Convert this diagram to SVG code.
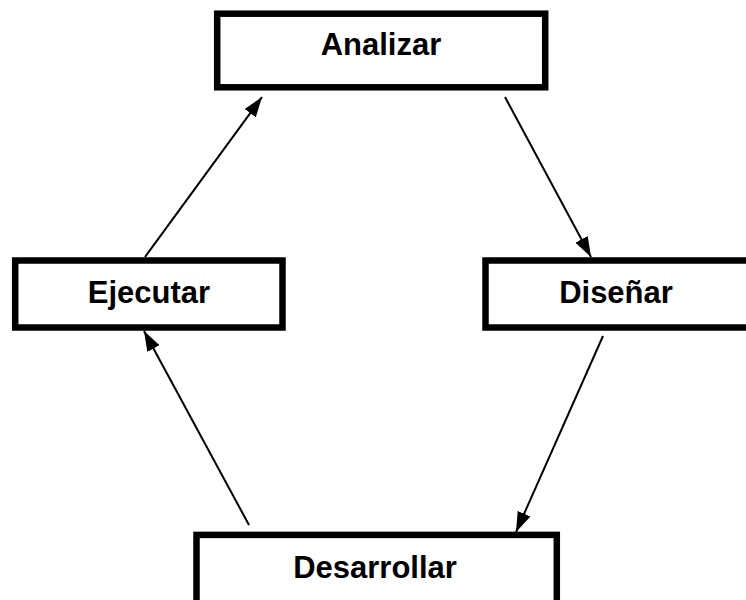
<svg xmlns="http://www.w3.org/2000/svg" width="746" height="600" viewBox="0 0 746 600">
<style>
.box{fill:#fff;stroke:#000;stroke-width:6.5}
.lbl{font-family:"Liberation Sans",Arial,sans-serif;font-weight:bold;font-size:31px;fill:#000;text-anchor:middle}
.edge{stroke:#000;stroke-width:2;fill:none;marker-end:url(#ah)}
</style>
<defs>
<marker id="ah" markerUnits="userSpaceOnUse" markerWidth="20" markerHeight="14" refX="20" refY="7" orient="auto">
<path d="M0,0 L20,7 L0,14 z" fill="#000"/>
</marker>
</defs>
<rect width="746" height="600" fill="#fff"/>
<g id="connectors">
<line class="edge" x1="505" y1="97" x2="591" y2="257"/>
<line class="edge" x1="603" y1="336" x2="516" y2="532"/>
<line class="edge" x1="249" y1="525" x2="144" y2="331"/>
<line class="edge" x1="145" y1="257" x2="262" y2="97"/>
</g>
<g id="analizar">
<rect class="box" x="217.2" y="13.7" width="328" height="73.6"/>
<text class="lbl" x="381" y="55">Analizar</text>
</g>
<g id="ejecutar">
<rect class="box" x="15.2" y="260.5" width="267.3" height="67"/>
<text class="lbl" x="149" y="303.3">Ejecutar</text>
</g>
<g id="disenar">
<rect class="box" x="485.5" y="260.5" width="265" height="67"/>
<text class="lbl" x="616" y="303.3">Diseñar</text>
</g>
<g id="desarrollar">
<rect class="box" x="196.5" y="534.9" width="360.3" height="72"/>
<text class="lbl" x="375" y="578.3">Desarrollar</text>
</g>
</svg>
